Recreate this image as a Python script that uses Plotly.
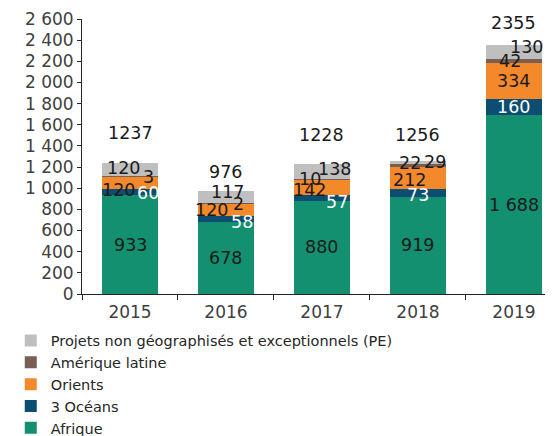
import plotly.graph_objects as go

years = ["2015", "2016", "2017", "2018", "2019"]
afrique = [933, 678, 880, 919, 1688]
oceans = [60, 58, 57, 73, 160]
orients = [120, 120, 142, 212, 334]
amlat = [3, 2, 10, 22, 42]
pe = [120, 117, 138, 29, 130]
totals = [1237, 976, 1228, 1256, 2355]
y_ticks = [0, 200, 400, 600, 800, 1000, 1200, 1400, 1600, 1800, 2000, 2200, 2400, 2600]

# label placement nudges in pixels (layout only, not data)
series = [
    ("Afrique", afrique, "#12906F", "#1a1a1a", [0, 0, 0, 0, 0], [0, 0, 0, 0, 0]),
    ("3 Océans", oceans, "#0C4E72", "#ffffff", [18, 16, 15, 0, 0], [-1, -3, -4, -2, 0]),
    ("Orients", orients, "#F3892A", "#1a1a1a", [-12, -14, -12, -8, 0], [-7, 0, -3, -2, 0]),
    ("Amérique latine", amlat, "#7B5E52", "#1a1a1a", [18, 13, -12, -8, -4], [-1, -1, 0, 2, 0]),
    ("Projets non géographisés et exceptionnels (PE)", pe, "#BFBFBF", "#1a1a1a",
     [-7, 2, 13, 17, 13], [2, 5, 3, 1, 5]),
]
total_dy = [30, 19, 29, 26, 22]

FONT = "DejaVu Sans"
LBL = 17.5
fig = go.Figure()
annotations = []
base = [0] * len(years)
for name, vals, color, tcolor, dxs, dys in series:
    fig.add_trace(go.Bar(x=years, y=vals, name=name, marker=dict(color=color, line=dict(width=0))))
    for i, v in enumerate(vals):
        mid = base[i] + v / 2
        annotations.append(dict(x=i, y=mid, xref="x", yref="y", text=f"{v:,}".replace(",", " "),
                                showarrow=False, xshift=dxs[i], yshift=dys[i],
                                font=dict(family=FONT, size=LBL, color=tcolor)))
        base[i] += v

for i, t in enumerate(totals):
    annotations.append(dict(x=i, y=base[i], xref="x", yref="y", text=str(t), showarrow=False,
                            yshift=total_dy[i],
                            font=dict(family=FONT, size=LBL, color="#1a1a1a")))

fig.update_layout(
    width=553, height=436,
    barmode="stack", bargap=0.42,
    margin=dict(l=74, r=0, t=11, b=150, autoexpand=False),
    plot_bgcolor="white", paper_bgcolor="white",
    font=dict(family=FONT, size=16, color="#404040"),
    separators=", ",
    annotations=annotations,
    legend=dict(orientation="v", traceorder="reversed", xref="container", yref="container",
                x=0.005, y=0.274, xanchor="left", yanchor="top",
                font=dict(family=FONT, size=14.5, color="#262626"), tracegroupgap=0,
                itemwidth=30, bgcolor="rgba(0,0,0,0)"),
    showlegend=True,
)
fig.update_xaxes(type="category", range=[-0.5, 4.49], showline=True, linecolor="#262626", linewidth=1,
                 ticks="outside", tickson="boundaries", ticklen=5, tickcolor="#262626",
                 showgrid=False, tickangle=0, ticklabelstandoff=3,
                 tickfont=dict(family=FONT, size=17, color="#404040"))
fig.update_yaxes(range=[0, 2600], tickvals=y_ticks, tickformat=",d", showline=True,
                 linecolor="#262626", linewidth=1, ticks="outside", ticklen=4,
                 tickcolor="#262626", showgrid=False, zeroline=False,
                 tickfont=dict(family=FONT, size=17, color="#404040"))

fig.write_html("out.html")
